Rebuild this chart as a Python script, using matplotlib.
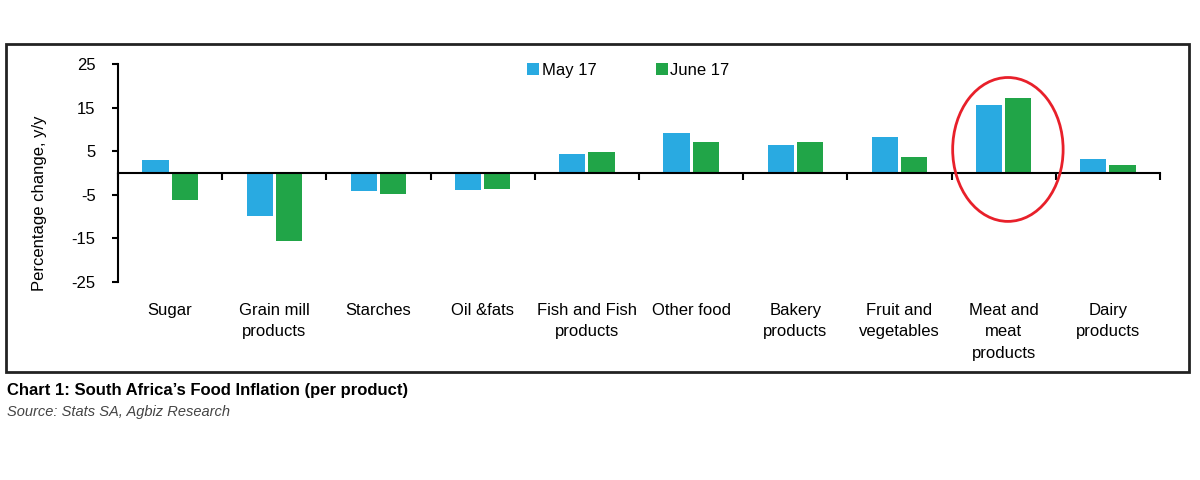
import matplotlib.pyplot as plt
import matplotlib.transforms as mtransforms
from matplotlib.patches import Ellipse, Rectangle
import numpy as np

plt.rcParams['font.family'] = ['Liberation Sans Narrow', 'Liberation Sans', 'DejaVu Sans']
plt.rcParams['axes.unicode_minus'] = False

# data
categories = ["Sugar", "Grain mill\nproducts", "Starches", "Oil &fats", "Fish and Fish\nproducts",
              "Other food", "Bakery\nproducts", "Fruit and\nvegetables", "Meat and\nmeat\nproducts",
              "Dairy\nproducts"]
may17 = [2.9, -9.8, -4.2, -4.0, 4.3, 9.2, 6.5, 8.2, 15.5, 3.2]
june17 = [-6.3, -15.6, -4.8, -3.7, 4.8, 7.0, 7.0, 3.6, 17.1, 1.9]
yticks = [25, 15, 5, -5, -15, -25]

blue = "#29aae1"
green = "#21a548"

fig = plt.figure(figsize=(12, 4.8), dpi=100)
ax = fig.add_axes([0.0983, 0.4125, 0.8684, 0.4542])

x = np.arange(len(categories))
w = 0.25
ax.bar(x - 0.14, may17, w, color=blue, label="May 17", zorder=2)
ax.bar(x + 0.14, june17, w, color=green, label="June 17", zorder=2)

ax.set_xlim(-0.5, len(categories) - 0.5)
ax.set_ylim(-25, 25)
ax.set_yticks(yticks)
ax.tick_params(axis='y', labelsize=12, direction='out', length=4, width=1.5, pad=12)

# x axis at zero, ticks between groups
ax.spines['bottom'].set_position(('data', 0))
ax.spines['bottom'].set_linewidth(1.5)
ax.spines['left'].set_linewidth(1.5)
ax.spines['top'].set_visible(False)
ax.spines['right'].set_visible(False)
ax.set_xticks(np.arange(len(categories) + 1) - 0.5)
ax.set_xticklabels([])
ax.tick_params(axis='x', direction='out', length=5, width=1.5)

trans = mtransforms.blended_transform_factory(ax.transData, ax.transAxes)
for i, c in enumerate(categories):
    ax.text(i, -0.095, c, transform=trans, ha='center', va='top', fontsize=12, linespacing=1.55)

ax.set_ylabel("Percentage change, y/y", fontsize=12)
ax.yaxis.set_label_coords(-0.068, 0.36)

ax.legend(loc='upper center', ncol=2, frameon=False, fontsize=12, handlelength=0.7,
          handleheight=0.7, handletextpad=0.15, columnspacing=3.6, bbox_to_anchor=(0.49, 1.075))

# red circle round the meat bars
ax.add_patch(Ellipse((8.04, 5.4), 1.06, 33, fill=False, edgecolor="#e8202a", linewidth=2,
                     clip_on=False, zorder=3))

# frame round the chart
fig.add_artist(Rectangle((0.005, 1 - 372 / 480), 0.986, 328 / 480, transform=fig.transFigure,
                         fill=False, edgecolor="#222222", linewidth=2))

fig.text(0.006, 1 - 390 / 480, "Chart 1: South Africa\u2019s Food Inflation (per product)",
         fontsize=12, fontweight='bold', va='center')
fig.text(0.006, 1 - 412 / 480, "Source: Stats SA, Agbiz Research", fontsize=10.5,
         style='italic', color="#444444", va='center')

fig.savefig("out.png", dpi=100)
